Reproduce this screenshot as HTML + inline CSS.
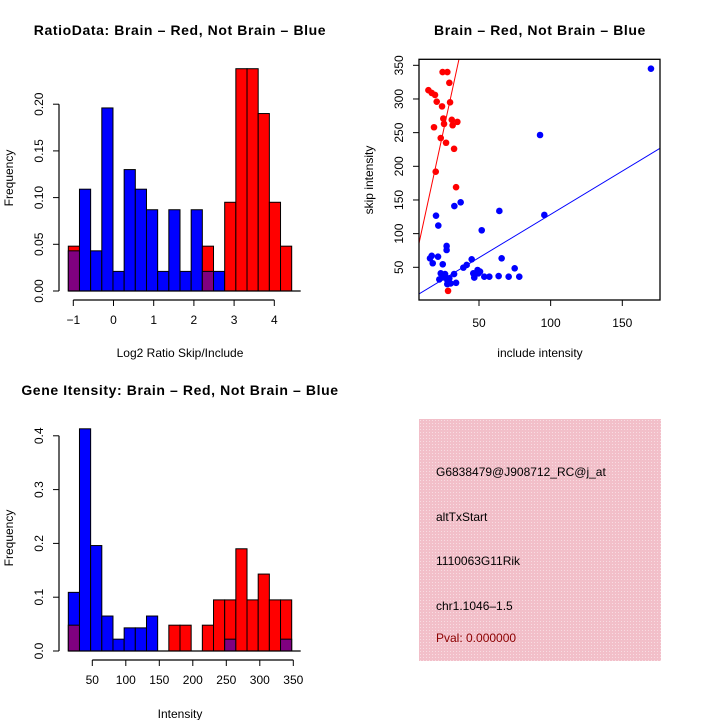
<!DOCTYPE html>
<html><head><meta charset="utf-8">
<style>
html,body{margin:0;padding:0;background:#fff;}
svg{display:block;font-family:"Liberation Sans",sans-serif;}
</style></head>
<body>
<svg id="chart" width="720" height="720" viewBox="0 0 720 720">
<defs>
<pattern id="hatch" width="3" height="3" patternUnits="userSpaceOnUse">
<rect width="3" height="3" fill="#f2bfc9"/><rect width="1" height="1" fill="#f8dce2"/>
</pattern>
</defs>
<text x="180" y="35" text-anchor="middle" font-size="14" font-weight="bold" letter-spacing="0.6">RatioData: Brain – Red, Not Brain – Blue</text>
<text x="540" y="35" text-anchor="middle" font-size="14" font-weight="bold" letter-spacing="0.6">Brain – Red, Not Brain – Blue</text>
<text x="180" y="395" text-anchor="middle" font-size="14" font-weight="bold" letter-spacing="0.6">Gene Itensity: Brain – Red, Not Brain – Blue</text>
<g id="info">
<rect x="419" y="419" width="242" height="242" fill="url(#hatch)"/>
<text x="436" y="476" font-size="12">G6838479@J908712_RC@j_at</text>
<text x="436" y="521" font-size="12">altTxStart</text>
<text x="436" y="565" font-size="12">1110063G11Rik</text>
<text x="436" y="610" font-size="12">chr1.1046–1.5</text>
<text x="436" y="642" font-size="12" fill="#8b0000">Pval: 0.000000</text>
</g>
</svg>
<script>
// ---- Ratio histogram data ----
const ratioBlue = [0.043,0.109,0.043,0.196,0.021,0.130,0.109,0.087,0.021,0.087,0.021,0.087,0.021,0.021,0,0,0,0,0,0];
const ratioRed  = [0.048,0,0,0,0,0,0,0,0,0,0,0,0.048,0,0.095,0.238,0.238,0.190,0.095,0.048];
const ratioXTicks = [-1,0,1,2,3,4];
const ratioYTicks = ["0.00","0.05","0.10","0.15","0.20"];
// ---- Intensity histogram data ----
const intBlue = [0.109,0.413,0.196,0.065,0.022,0.043,0.043,0.065,0,0,0,0,0,0,0.022,0,0,0,0,0.022];
const intRed  = [0.048,0,0,0,0,0,0,0,0,0.048,0.048,0,0.048,0.095,0.095,0.190,0.095,0.143,0.095,0.095];
const intXTicks = [50,100,150,200,250,300,350];
const intYTicks = ["0.0","0.1","0.2","0.3","0.4"];
// ---- Scatter data ----
const redX = [14.7,17,19.3,20.5,24.6,27.9,29.3,29.8,24.2,25.1,25.6,31,31.6,34.9,18.6,23.3,27,32.6,19.8,34,28.4];
const redY = [313,309,306,296,340,340,324,295,289,271,263,269,261,266,258,242,235,226,192,169,15];
const blueX = [170,92.6,95.6,64.2,37.2,32.8,51.9,20,21.6,27.4,27.4,15.8,17,17.7,21.4,24.7,44.9,41.4,39.1,65.8,74.9,78.1,70.7,63.7,57.2,53.7,50.7,49,46,46.7,49.5,32.6,26.3,23.3,22.3,24.7,27.9,27.9,30.2,34,29.3];
const blueY = [345,246.5,127.7,133.7,146.5,141,105,126.7,112,81.7,75.7,63.4,67,56,65.8,54.5,61.9,53.5,49.5,63.4,48.5,36,36,37,36,36,43.6,46,41,34.7,41,40,40,41,32,35,31,25,26,27,33.7];
const scatterXTicks = [50,100,150];
const scatterYTicks = [50,100,150,200,250,300,350];
const redFit = [6, 9.8];   // intercept, slope
const blueFit = [0, 1.286];

const NS="http://www.w3.org/2000/svg";
const svg=document.getElementById('chart');
function mk(tag,attrs,parent){const e=document.createElementNS(NS,tag);for(const k in attrs)e.setAttribute(k,attrs[k]);(parent||svg).appendChild(e);return e;}

function histogram(cfg){
  const g=mk('g',{});
  
  
  const xs=v=>cfg.x0+(v-cfg.d0)*cfg.xScale;
  const ys=v=>cfg.base-v*cfg.yScale;
  const n=cfg.blue.length;
  for(let i=0;i<n;i++){
    const b=cfg.blue[i], r=cfg.red[i];
    const left=cfg.binX0+i*cfg.binW;
    const lo=Math.min(b,r), hi=Math.max(b,r);
    if(hi<=0) continue;
    const topCol = r>b ? '#ff0000' : '#0000ff';
    const rb=mk('rect',{x:left,y:ys(hi),width:cfg.binW,height:ys(0)-ys(hi),fill:topCol,stroke:'#000','stroke-width':1},g);
    
    
    if(lo>0){
      const pb=mk('rect',{x:left,y:ys(lo),width:cfg.binW,height:ys(0)-ys(lo),fill:'#800080',stroke:'#000','stroke-width':1},g);
      
      
    }
  }
  mk('line',{x1:cfg.binX0,x2:cfg.binX0+n*cfg.binW+9,y1:cfg.base,y2:cfg.base,stroke:'#000','stroke-width':1.3},g);
  const yv=cfg.yTicks.map(Number);
  const ya=mk('line',{x1:59,x2:59,y1:ys(yv[0]),y2:ys(yv[yv.length-1]),stroke:'#000','stroke-width':1.2},g);
  
  
  cfg.yTicks.forEach(t=>{
    const y=ys(Number(t));
    mk('line',{x1:53,x2:59,y1:y,y2:y,stroke:'#000'},g);
    const tx=mk('text',{x:43,y:y,'font-size':12,'text-anchor':'middle',transform:`rotate(-90 43 ${y})`},g);
    tx.textContent=t;
    
    
  });
  const xt=cfg.xTicks;
  const xa=mk('line',{x1:xs(xt[0]),x2:xs(xt[xt.length-1]),y1:cfg.xAxisY,y2:cfg.xAxisY,stroke:'#000','stroke-width':1.2},g);
  
  
  xt.forEach(t=>{
    const x=xs(t);
    mk('line',{x1:x,x2:x,y1:cfg.xAxisY,y2:cfg.xAxisY+6,stroke:'#000'},g);
    const tx=mk('text',{x:x,y:cfg.xAxisY+24,'font-size':12,'text-anchor':'middle'},g);
    tx.textContent=t<0?'−'+(-t):String(t);
    
    
  });
  const xl=mk('text',{x:180,y:cfg.xLabelY,'font-size':12,'text-anchor':'middle'},g);
  xl.textContent=cfg.xLabel;
  
  
  const yl=mk('text',{x:13,y:cfg.yLabelY,'font-size':12,'text-anchor':'middle',transform:`rotate(-90 13 ${cfg.yLabelY})`},g);
  yl.textContent='Frequency';
  
  
}

histogram({name:'ratio-histogram',blue:ratioBlue,red:ratioRed,x0:73.3,d0:-1,xScale:40.2,base:291,yScale:934,
  binX0:68.3,binW:11.17,yTicks:ratioYTicks,xTicks:ratioXTicks,xAxisY:300,xLabel:'Log2 Ratio Skip/Include',xLabelY:357,yLabelY:178});
histogram({name:'intensity-histogram',blue:intBlue,red:intRed,x0:92.3,d0:50,xScale:0.67,base:651,yScale:538,
  binX0:68.3,binW:11.17,yTicks:intYTicks,xTicks:intXTicks,xAxisY:660,xLabel:'Intensity',xLabelY:718,yLabelY:538});

(function(){
  const g=mk('g',{});
  
  
  const sx=v=>479+(v-50)*1.433;
  const sy=v=>267.3-(v-50)*0.6733;
  const L=419,R=660,T=59.3,B=300;
  const clip=mk('clipPath',{id:'sc'},g);
  mk('rect',{x:L,y:T,width:R-L,height:B-T},clip);
  blueX.forEach((x,i)=>{
    const c=mk('circle',{cx:sx(x),cy:sy(blueY[i]),r:3.3,fill:'#0000ff'},g);
    
    
  });
  redX.forEach((x,i)=>{
    const c=mk('circle',{cx:sx(x),cy:sy(redY[i]),r:3.3,fill:'#ff0000'},g);
    
    
  });
  const xa=8.1, xb=176.3;
  const rl=mk('line',{x1:sx(xa),y1:sy(redFit[0]+redFit[1]*xa),x2:sx(xb),y2:sy(redFit[0]+redFit[1]*xb),stroke:'#ff0000','stroke-width':1,'clip-path':'url(#sc)'},g);
  
  
  const bl=mk('line',{x1:sx(xa),y1:sy(blueFit[0]+blueFit[1]*xa),x2:sx(xb),y2:sy(blueFit[0]+blueFit[1]*xb),stroke:'#0000ff','stroke-width':1,'clip-path':'url(#sc)'},g);
  
  
  const box=mk('rect',{x:L,y:T,width:R-L,height:B-T,fill:'none',stroke:'#000','stroke-width':1.3},g);
  
  
  scatterYTicks.forEach(t=>{
    const y=sy(t);
    mk('line',{x1:L-6,x2:L,y1:y,y2:y,stroke:'#000'},g);
    const tx=mk('text',{x:403,y:y,'font-size':12,'text-anchor':'middle',transform:`rotate(-90 403 ${y})`},g);
    tx.textContent=t;
    
    
  });
  scatterXTicks.forEach(t=>{
    const x=sx(t);
    mk('line',{x1:x,x2:x,y1:B,y2:B+6,stroke:'#000'},g);
    const tx=mk('text',{x:x,y:327,'font-size':12,'text-anchor':'middle'},g);
    tx.textContent=t;
    
    
  });
  const xl=mk('text',{x:540,y:357,'font-size':12,'text-anchor':'middle'},g);
  xl.textContent='include intensity';
  
  
  const yl=mk('text',{x:373,y:180,'font-size':12,'text-anchor':'middle',transform:'rotate(-90 373 180)'},g);
  yl.textContent='skip intensity';
  
  
})();
</script>
</body></html>
